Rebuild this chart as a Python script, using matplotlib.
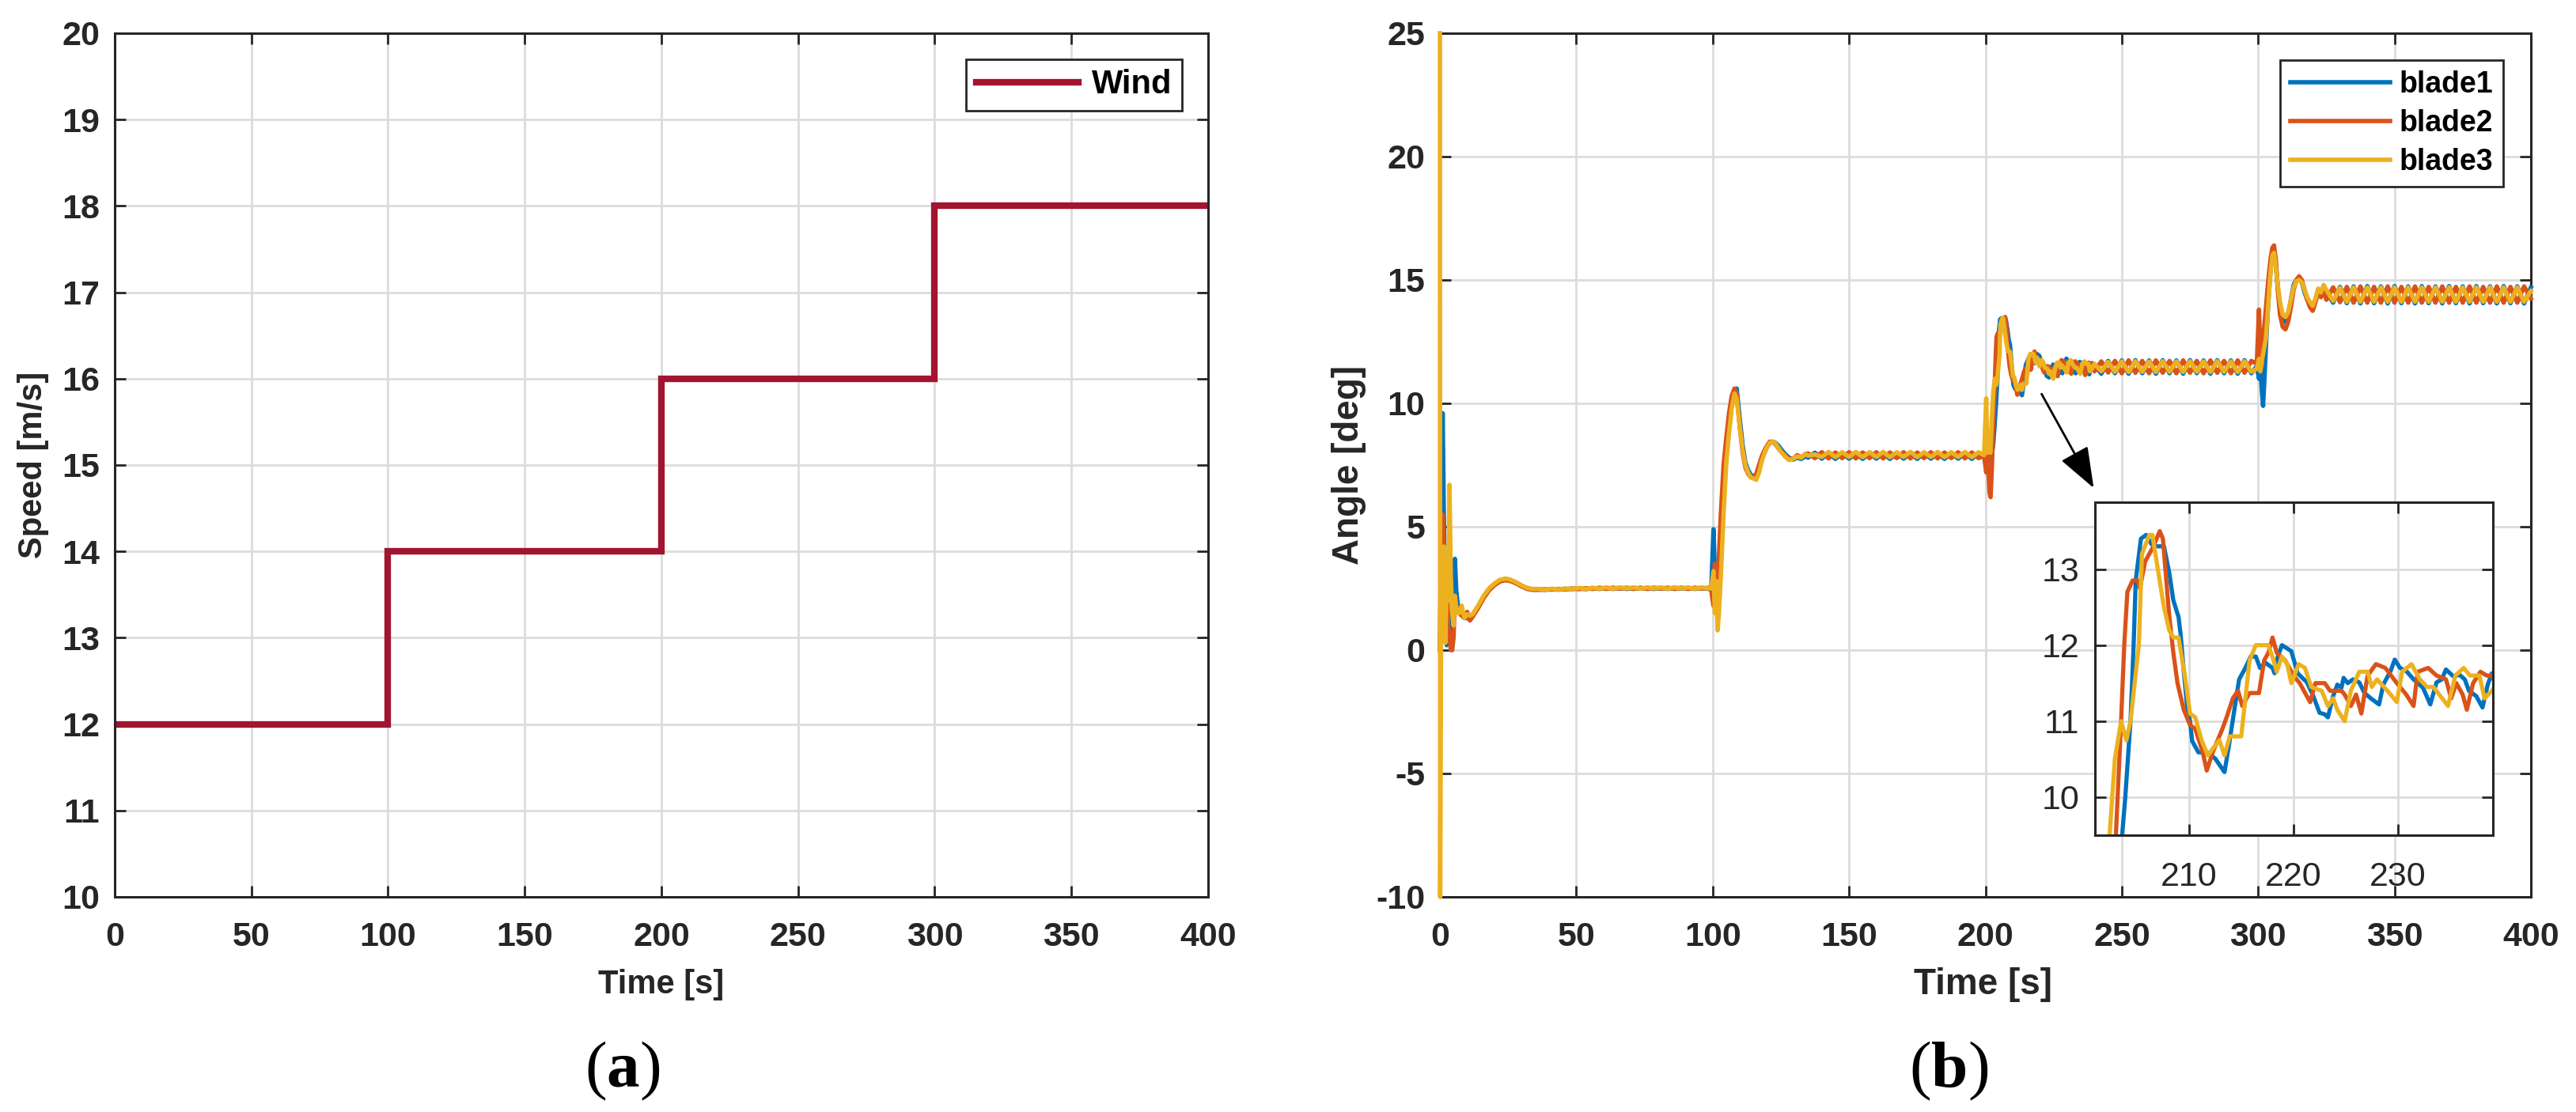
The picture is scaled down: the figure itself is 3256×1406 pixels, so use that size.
import numpy as np
import matplotlib
matplotlib.use("Agg")
import matplotlib.pyplot as plt

plt.rcParams['font.family'] = ['Liberation Sans', 'DejaVu Sans']
plt.rcParams['axes.unicode_minus'] = False
plt.rcParams['mathtext.fontset'] = 'custom'
plt.rcParams['mathtext.rm'] = 'Liberation Serif'
plt.rcParams['mathtext.bf'] = 'Liberation Serif:bold'

# ---- (a) wind speed steps ----
wind_t = [0, 100, 100, 200, 200, 300, 300, 400]
wind_v = [12, 12, 14, 14, 16, 16, 18, 18]

# ---- (b) pitch angles ----
# start-up transient (shared time grid)
t_start = [0, 0.1, 0.5, 1.0, 1.5, 2.0, 2.5, 3.0, 3.5, 4.0, 4.5, 5.0, 5.5, 6.0, 6.5, 7.0,
           8.0, 9.0, 10.0, 11.0, 12.0, 14.0, 16.0, 18.0, 20.0, 22.0, 24.0, 26.0, 28.0, 30.0, 32.0, 34.0]
b1_start = [0.0, 0.5, 4.0, 9.6, 5.0, 1.0, 0.2, 1.5, 0.8, 0.4, 2.0, 3.0, 3.7, 2.4, 1.9, 1.7,
            1.5, 1.3, 1.3, 1.25, 1.4, 1.75, 2.15, 2.45, 2.65, 2.8, 2.85, 2.8, 2.72, 2.6, 2.5, 2.46]
b2_start = [0.0, 1.5, 3.8, 5.5, 4.0, 1.5, 2.5, 1.0, 0.6, 0.0, 0.0, 0.5, 2.2, 1.8, 1.6, 1.5,
            1.4, 1.3, 1.55, 1.2, 1.35, 1.7, 2.1, 2.42, 2.63, 2.78, 2.84, 2.8, 2.7, 2.58, 2.48, 2.44]
b3_start = [25.0, -10.0, 3.5, 0.4, 4.2, 0.3, 2.8, 2.0, 6.7, 3.0, 1.5, 1.0, 2.2, 1.7, 1.5, 1.5,
            1.8, 1.3, 1.45, 1.4, 1.45, 1.8, 2.2, 2.5, 2.7, 2.85, 2.9, 2.85, 2.75, 2.62, 2.52, 2.48]

# steady part at 12 m/s
t_low = np.arange(36, 99, 2.5)
b1_low = [2.46, 2.44, 2.47, 2.45, 2.48, 2.47, 2.50, 2.47, 2.51, 2.48, 2.52, 2.48, 2.52,
          2.48, 2.52, 2.49, 2.52, 2.48, 2.52, 2.48, 2.52, 2.49, 2.52, 2.48, 2.52, 2.48]
b2_low = [2.44, 2.47, 2.45, 2.48, 2.46, 2.50, 2.47, 2.51, 2.48, 2.53, 2.48, 2.53, 2.49,
          2.53, 2.48, 2.53, 2.48, 2.53, 2.49, 2.53, 2.48, 2.53, 2.48, 2.53, 2.49, 2.53]
b3_low = [2.48, 2.45, 2.49, 2.46, 2.50, 2.47, 2.52, 2.48, 2.53, 2.49, 2.54, 2.49, 2.54,
          2.50, 2.54, 2.49, 2.54, 2.50, 2.54, 2.49, 2.54, 2.50, 2.54, 2.49, 2.54, 2.50]

# step at 100 s
t_step1 = [99.5, 100.3, 100.8, 101.3, 101.8, 102.3, 103.0, 104.0, 105.0, 106.0, 107.0, 108.0,
           108.8, 110.0, 111.0, 112.0, 113.0, 114.0, 115.0, 116.0, 117.0, 118.0, 119.0, 120.0,
           121.0, 122.0, 123.0, 124.0, 125.0, 126.5, 128.0, 129.5, 131.0, 132.5, 134.0]
b1_step1 = [2.5, 4.9, 3.2, 2.2, 2.0, 3.0, 4.5, 6.2, 7.8, 9.0, 10.0, 10.5, 10.6, 9.3, 8.3, 7.6,
            7.3, 7.1, 7.05, 7.1, 7.4, 7.75, 8.0, 8.25, 8.4, 8.45, 8.4, 8.3, 8.15, 7.95, 7.8,
            7.72, 7.8, 7.75, 7.85]
b2_step1 = [2.4, 1.8, 3.5, 2.0, 2.4, 3.8, 5.5, 7.5, 8.6, 9.6, 10.3, 10.6, 10.4, 9.0, 8.0, 7.4,
            7.15, 7.0, 7.0, 7.15, 7.5, 7.85, 8.1, 8.3, 8.45, 8.42, 8.35, 8.2, 8.05, 7.9, 7.75,
            7.75, 7.9, 7.8, 7.95]
b3_step1 = [2.5, 3.2, 1.5, 2.8, 0.8, 1.5, 3.0, 5.5, 7.6, 8.8, 9.8, 10.4, 10.2, 9.0, 8.1, 7.5,
            7.2, 7.0, 6.95, 6.9, 7.2, 7.65, 8.0, 8.25, 8.4, 8.45, 8.38, 8.22, 8.05, 7.85, 7.7,
            7.75, 7.85, 7.8, 7.95]

# steady part at 14 m/s
t_mid = np.arange(135, 199, 2.5)
b1_mid = [7.80, 8.00, 7.76, 7.98, 7.75, 7.99, 7.76, 7.98, 7.75, 7.99, 7.76, 7.98, 7.75,
          7.99, 7.76, 7.98, 7.75, 7.99, 7.76, 7.98, 7.75, 7.99, 7.76, 7.98, 7.75, 7.99]
b2_mid = [7.97, 7.78, 8.02, 7.77, 8.01, 7.78, 8.02, 7.77, 8.01, 7.78, 8.02, 7.77, 8.01,
          7.78, 8.02, 7.77, 8.01, 7.78, 8.02, 7.77, 8.01, 7.78, 8.02, 7.77, 8.01, 7.78]
b3_mid = [7.88, 7.93, 7.83, 8.03, 7.82, 8.02, 7.83, 8.03, 7.82, 8.02, 7.83, 8.03, 7.82,
          8.02, 7.83, 8.03, 7.82, 8.02, 7.83, 8.03, 7.82, 8.02, 7.83, 8.03, 7.82, 8.02]

# step at 200 s (detailed, also shown in the zoom)
b1_t_step2 = [199.5, 200.2, 200.6, 201.2, 202.0, 202.8, 203.3, 203.6, 203.9, 204.4, 204.7, 204.9,
              205.4, 205.9, 206.4, 206.9, 207.6, 208.1, 208.5, 209.0, 209.2, 209.5, 209.8, 210.1,
              210.3, 210.9, 211.7, 212.5, 213.4, 213.8, 214.3, 214.8, 215.4, 215.9, 216.4, 216.8,
              217.3, 218.0, 218.2, 218.5, 218.9, 219.8, 220.4, 221.3, 221.9, 222.5, 223.0, 223.3,
              223.8, 224.2, 224.6, 224.8, 225.2, 225.7, 226.3, 226.8, 227.5, 228.2, 228.6, 229.3,
              229.7, 230.2, 230.8, 231.5, 232.4, 233.1, 233.7, 234.2, 234.6, 235.3, 235.9, 236.4,
              236.8, 237.5, 238.1, 238.6, 239.0]
b1_step2 = [7.8, 7.5, 8.3, 7.3, 7.6, 8.3, 9.0, 9.5, 10.0, 11.0, 12.0, 12.85,
            13.4, 13.45, 13.33, 13.3, 13.3, 12.96, 12.59, 12.37, 12.14, 11.66, 11.22, 11.0,
            10.74, 10.59, 10.59, 10.51, 10.33, 10.66, 11.11, 11.55, 11.70, 11.85, 11.85, 11.70,
            11.77, 11.70, 11.63, 11.85, 12.0, 11.92, 11.63, 11.51, 11.33, 11.11, 11.09, 11.05,
            11.33, 11.48, 11.44, 11.57, 11.50, 11.55, 11.51, 11.37, 11.29, 11.22, 11.48, 11.66,
            11.81, 11.70, 11.66, 11.55, 11.44, 11.22, 11.51, 11.55, 11.68, 11.59, 11.61, 11.55,
            11.40, 11.33, 11.18, 11.48, 11.63]
b2_t_step2 = [199.5, 200.3, 200.8, 201.5, 201.9, 202.4, 202.8, 203.0, 203.5, 203.8, 204.1, 204.6,
              205.1, 205.3, 205.8, 206.6, 207.2, 207.5, 207.8, 208.1, 208.5, 208.9, 209.5, 210.1,
              210.6, 211.3, 211.7, 212.3, 213.2, 213.6, 214.2, 214.7, 215.1, 215.8, 216.7, 217.2,
              217.6, 218.0, 218.4, 219.2, 220.0, 220.6, 221.6, 222.1, 223.0, 223.5, 224.6, 224.9,
              225.5, 226.0, 226.5, 227.1, 227.9, 228.8, 229.9, 230.8, 231.5, 231.9, 232.9, 233.7,
              234.6, 235.1, 235.6, 236.2, 236.6, 237.2, 237.9, 238.5, 239.0]
b2_step2 = [7.9, 7.2, 7.9, 6.4, 6.2, 7.5, 9.0, 9.5, 11.0, 12.0, 12.7, 12.85,
            12.85, 12.75, 13.1, 13.3, 13.5, 13.4, 12.9, 12.4, 11.9, 11.5, 11.15, 10.95,
            10.9, 10.6, 10.35, 10.6, 10.9, 11.05, 11.3, 11.4, 11.2, 11.37, 11.37, 11.8,
            11.9, 12.1, 11.9, 11.8, 11.6, 11.5, 11.25, 11.5, 11.5, 11.4, 11.4, 11.35,
            11.2, 11.35, 11.1, 11.6, 11.75, 11.7, 11.5, 11.35, 11.2, 11.65, 11.7, 11.6,
            11.55, 11.3, 11.5, 11.35, 11.15, 11.5, 11.65, 11.6, 11.6]
b3_t_step2 = [199.5, 200.3, 200.7, 201.2, 201.8, 202.4, 202.9, 203.5, 204.0, 204.4, 205.2, 205.5,
              206.2, 206.5, 206.9, 207.6, 208.1, 208.5, 209.0, 209.6, 210.1, 210.6, 211.2, 211.8,
              212.9, 213.4, 213.9, 215.0, 215.8, 216.4, 217.2, 217.6, 218.1, 218.4, 218.9, 219.4,
              219.8, 220.5, 221.1, 221.7, 222.7, 223.3, 223.8, 224.2, 224.9, 225.5, 226.3, 227.1,
              227.5, 228.0, 229.0, 229.9, 230.4, 231.3, 232.1, 232.8, 233.4, 234.8, 235.5, 236.3,
              236.9, 237.8, 238.3, 239.0]
b3_step2 = [7.9, 10.2, 8.0, 8.5, 8.0, 9.5, 10.5, 11.0, 10.75, 11.0, 12.0, 13.2,
            13.45, 13.45, 13.1, 12.5, 12.2, 12.1, 12.1, 11.6, 11.1, 11.05, 10.75, 10.55,
            10.75, 10.55, 10.8, 10.8, 11.8, 12.0, 12.0, 12.0, 11.8, 11.65, 11.85, 11.75,
            11.5, 11.75, 11.7, 11.45, 11.4, 11.2, 11.3, 11.15, 11.0, 11.4, 11.65, 11.65,
            11.45, 11.55, 11.4, 11.25, 11.65, 11.75, 11.55, 11.45, 11.45, 11.2, 11.6, 11.7,
            11.6, 11.6, 11.3, 11.4]

# steady part at 16 m/s
t_high = np.arange(240, 299, 2.5)
b1_high = [11.55, 11.20, 11.72, 11.22, 11.74, 11.20, 11.75, 11.22, 11.74, 11.20, 11.75, 11.22,
           11.74, 11.20, 11.75, 11.22, 11.74, 11.20, 11.75, 11.22, 11.74, 11.20, 11.75, 11.22]
b2_high = [11.30, 11.70, 11.25, 11.72, 11.22, 11.74, 11.24, 11.72, 11.22, 11.74, 11.24, 11.72,
           11.22, 11.74, 11.24, 11.72, 11.22, 11.74, 11.24, 11.72, 11.22, 11.74, 11.24, 11.72]
b3_high = [11.60, 11.30, 11.68, 11.28, 11.70, 11.27, 11.71, 11.28, 11.70, 11.27, 11.71, 11.28,
           11.70, 11.27, 11.71, 11.28, 11.70, 11.27, 11.71, 11.28, 11.70, 11.27, 11.71, 11.28]

# step at 300 s
t_step3 = [299.5, 300.3, 300.8, 301.3, 301.8, 302.3, 302.8, 303.4, 304.0, 304.6, 305.2, 305.8,
           306.5, 307.2, 308.0, 309.0, 310.0, 311.0, 312.0, 313.0, 314.0, 315.0, 316.0, 317.0,
           318.0, 319.0, 320.0, 321.0, 322.0, 323.0, 324.0]
b1_step3 = [11.5, 11.0, 11.6, 10.6, 9.9, 11.0, 12.2, 13.5, 14.6, 15.5, 16.0, 16.2, 15.6, 14.7,
            13.9, 13.4, 13.3, 13.6, 14.2, 14.8, 15.0, 15.05, 14.9, 14.5, 14.2, 14.0, 13.85,
            14.2, 14.6, 14.4, 14.7]
b2_step3 = [11.6, 13.8, 12.0, 11.5, 12.5, 13.2, 13.8, 14.6, 15.3, 15.9, 16.3, 16.4, 15.8, 14.6,
            13.6, 13.1, 13.0, 13.3, 13.9, 14.6, 15.0, 15.15, 15.0, 14.6, 14.2, 13.9, 13.75,
            14.1, 14.5, 14.3, 14.6]
b3_step3 = [11.4, 11.8, 11.3, 11.7, 12.0, 12.3, 12.6, 13.5, 14.5, 15.4, 16.0, 16.1, 15.5, 14.8,
            14.1, 13.6, 13.5, 13.7, 14.2, 14.7, 14.95, 15.0, 14.9, 14.6, 14.3, 14.1, 13.95,
            14.25, 14.65, 14.5, 14.8]

# steady part at 18 m/s
t_top = np.arange(325, 401, 2.5)
b1_top = [14.50, 14.08, 14.72, 14.06, 14.74, 14.05, 14.75, 14.06, 14.74, 14.05, 14.75, 14.06,
          14.74, 14.05, 14.75, 14.06, 14.74, 14.05, 14.75, 14.06, 14.74, 14.05, 14.75, 14.06,
          14.74, 14.05, 14.75, 14.06, 14.74, 14.05, 14.70]
b2_top = [14.20, 14.70, 14.10, 14.72, 14.08, 14.74, 14.08, 14.72, 14.08, 14.74, 14.08, 14.72,
          14.08, 14.74, 14.08, 14.72, 14.08, 14.74, 14.08, 14.72, 14.08, 14.74, 14.08, 14.72,
          14.08, 14.74, 14.08, 14.72, 14.08, 14.74, 14.25]
b3_top = [14.60, 14.15, 14.68, 14.12, 14.70, 14.12, 14.70, 14.12, 14.70, 14.12, 14.70, 14.12,
          14.70, 14.12, 14.70, 14.12, 14.70, 14.12, 14.70, 14.12, 14.70, 14.12, 14.70, 14.12,
          14.70, 14.12, 14.70, 14.12, 14.70, 14.12, 14.55]

blade_names = ['blade1', 'blade2', 'blade3']
blade_colors = ['#0072BD', '#D95319', '#EDB120']
wind_color = '#A2142F'
dark = '#262626'

blade_t = [
    np.concatenate([t_start, t_low, t_step1, t_mid, b1_t_step2, t_high, t_step3, t_top]),
    np.concatenate([t_start, t_low, t_step1, t_mid, b2_t_step2, t_high, t_step3, t_top]),
    np.concatenate([t_start, t_low, t_step1, t_mid, b3_t_step2, t_high, t_step3, t_top]),
]
blade_y = [
    np.concatenate([b1_start, b1_low, b1_step1, b1_mid, b1_step2, b1_high, b1_step3, b1_top]),
    np.concatenate([b2_start, b2_low, b2_step1, b2_mid, b2_step2, b2_high, b2_step3, b2_top]),
    np.concatenate([b3_start, b3_low, b3_step1, b3_mid, b3_step2, b3_high, b3_step3, b3_top]),
]


def style_axes(ax, tick_size, bold=True, xpad=22, ypad=13.5):
    for s in ax.spines.values():
        s.set_color(dark)
        s.set_linewidth(2.2)
    ax.tick_params(direction='in', length=10, width=2, colors=dark, top=True, right=True,
                   labelsize=tick_size)
    ax.tick_params(axis='x', pad=xpad)
    ax.tick_params(axis='y', pad=ypad)
    ax.grid(True, color='#dcdcdc', linewidth=2.0)
    if bold:
        for lab in ax.get_xticklabels() + ax.get_yticklabels():
            lab.set_fontweight('bold')


fig = plt.figure(figsize=(32.56, 14.06), dpi=100)

# ---------------- (a) ----------------
ax1 = fig.add_axes([0.04453, 0.19346, 0.42445, 0.77667])
ax1.plot(wind_t, wind_v, color=wind_color, lw=6, label='Wind', solid_joinstyle='miter')
ax1.set_xlim(0, 400)
ax1.set_ylim(10, 20)
ax1.set_xticks(np.arange(0, 401, 50))
ax1.set_yticks(np.arange(10, 21, 1))
style_axes(ax1, 31)
ax1.set_xlabel('Time [s]', fontsize=30, fontweight='bold', color=dark)
ax1.set_ylabel('Speed [m/s]', fontsize=30, fontweight='bold', color=dark)
ax1.xaxis.label.set_va('center')
ax1.xaxis.set_label_coords(0.5, -0.1016)
ax1.yaxis.label.set_va('center')
ax1.yaxis.set_label_coords(-0.0745, 0.5)
leg1 = ax1.legend(loc='upper right', bbox_to_anchor=(0.976, 0.9698), borderaxespad=0,
                  prop=dict(weight='bold', size=30), handlelength=3.1, handletextpad=0.4,
                  borderpad=0.3, fancybox=False, framealpha=1)
leg1.get_frame().set_edgecolor(dark)
leg1.get_frame().set_linewidth(2.0)

# ---------------- (b) ----------------
ax2 = fig.add_axes([0.55897, 0.19346, 0.42353, 0.77667])
for t, y, c, n in zip(blade_t, blade_y, blade_colors, blade_names):
    ax2.plot(t, y, color=c, lw=4, label=n, clip_on=False, zorder=3)
ax2.set_xlim(0, 400)
ax2.set_ylim(-10, 25)
ax2.set_xticks(np.arange(0, 401, 50))
ax2.set_yticks(np.arange(-10, 26, 5))
style_axes(ax2, 31)
ax2.set_xlabel('Time [s]', fontsize=33, fontweight='bold', color=dark)
ax2.set_ylabel('Angle [deg]', fontsize=33, fontweight='bold', color=dark)
ax2.xaxis.label.set_va('center')
ax2.xaxis.set_label_coords(0.4975, -0.1016)
ax2.yaxis.label.set_va('center')
ax2.yaxis.set_label_coords(-0.0834, 0.5)
leg2 = ax2.legend(loc='upper right', bbox_to_anchor=(0.9746, 0.9689), borderaxespad=0,
                  prop=dict(weight='bold', size=27), handlelength=3.36, handletextpad=0.3,
                  borderpad=0.35, labelspacing=0.35, fancybox=False, framealpha=1)
leg2.get_frame().set_edgecolor(dark)
leg2.get_frame().set_linewidth(2.0)

# arrow pointing at the zoomed region
ax2.annotate('', xy=(239.7, 6.57), xytext=(220.6, 10.38),
             arrowprops=dict(arrowstyle='-|>,head_length=0.8,head_width=0.3',
                             mutation_scale=40, lw=2, color='k', shrinkA=0, shrinkB=0))

# zoom inset
axins = fig.add_axes([0.81327, 0.24893, 0.15449, 0.29943])
for t, y, c in zip(blade_t, blade_y, blade_colors):
    axins.plot(t, y, color=c, lw=3.8)
axins.set_xlim(201, 239.1)
axins.set_ylim(9.5, 13.88)
axins.set_xticks([210, 220, 230])
axins.set_yticks([10, 11, 12, 13])
style_axes(axins, 31, bold=False, xpad=24, ypad=14)

# panel captions
fig.text(0.2417, 0.0370, r'($\mathbf{a}$)', family='Liberation Serif', fontsize=60,
         ha='center', va='center')
fig.text(0.7565, 0.0370, r'($\mathbf{b}$)', family='Liberation Serif', fontsize=60,
         ha='center', va='center')

fig.savefig('out.png', dpi=100)
plt.close(fig)
